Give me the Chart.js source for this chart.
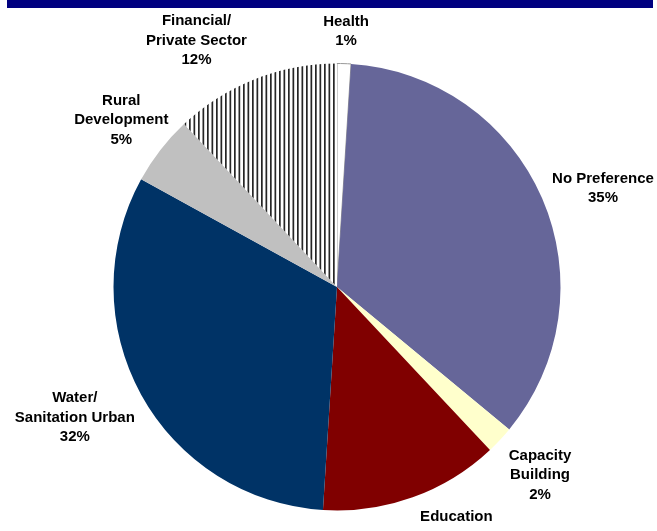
<!DOCTYPE html>
<html>
<head>
<meta charset="utf-8">
<script src="https://cdn.jsdelivr.net/npm/chart.js@4.4.1/dist/chart.umd.min.js"></script>
<style>
  html, body { margin: 0; padding: 0; background: #ffffff; }
  #wrap { position: relative; width: 657px; height: 531px; overflow: hidden; }
  #topbar { position: absolute; left: 7px; top: 0; width: 646px; height: 8px; background: #000080; }
  #c { position: absolute; left: 0; top: 0; }
</style>
</head>
<body>
<div id="wrap">
  <canvas id="c" width="657" height="531"></canvas>
  <div id="topbar"></div>
</div>
<script>
// Data (clockwise from 12 o'clock)
const categories = ["Health", "No Preference", "Capacity Building", "Education", "Water/ Sanitation Urban", "Rural Development", "Financial/ Private Sector"];
const labelLines = [["Health"], ["No Preference"], ["Capacity", "Building"], ["Education"], ["Water/", "Sanitation Urban"], ["Rural", "Development"], ["Financial/", "Private Sector"]];
const values = [1, 35, 2, 13, 32, 5, 12];
const percentLabels = ["1%", "35%", "2%", "13%", "32%", "5%", "12%"];

// Styles
const sliceColors = ["#FFFFFF", "#666699", "#FFFFCC", "#800000", "#003366", "#C0C0C0", null];
const labelNudge = [[1, -3], [5, 2], [10, 8], [28, 2], [-5, 4], [6, -6], [-36, -2]];

function stripePattern() {
  const pc = document.createElement('canvas');
  pc.width = 9; pc.height = 4;
  const p = pc.getContext('2d');
  p.fillStyle = '#ffffff';
  p.fillRect(0, 0, 9, 4);
  p.fillStyle = '#262626';
  p.fillRect(0, 0, 1.7, 4);
  p.fillRect(4.5, 0, 1.7, 4);
  return p.createPattern(pc, 'repeat');
}

const ctx = document.getElementById('c').getContext('2d');
const bg = sliceColors.map(c => c === null ? stripePattern() : c);

const labelPlugin = {
  id: 'outLabels',
  afterDatasetsDraw(chart) {
    const c = chart.ctx;
    const meta = chart.getDatasetMeta(0);
    const font = 'bold 15px "Liberation Sans", Arial, sans-serif';
    const lineH = 19.5;
    const gap = 10;
    c.save();
    c.font = font;
    c.fillStyle = '#000000';
    c.textAlign = 'center';
    c.textBaseline = 'middle';
    meta.data.forEach((arc, i) => {
      const p = arc.getProps(['x', 'y', 'startAngle', 'endAngle', 'outerRadius'], true);
      const mid = (p.startAngle + p.endAngle) / 2;
      const dx = Math.cos(mid), dy = Math.sin(mid);
      const lines = labelLines[i].concat([percentLabels[i]]);
      const w = Math.max(...lines.map(t => c.measureText(t).width));
      const h = lines.length * lineH;
      const px = p.x + (p.outerRadius + gap) * dx;
      const py = p.y + (p.outerRadius + gap) * dy;
      const cx = px + dx * w / 2 + labelNudge[i][0];
      const cy = py + dy * h / 2 + labelNudge[i][1];
      const top = cy - h / 2 + lineH / 2;
      lines.forEach((t, k) => c.fillText(t, cx, top + k * lineH));
    });
    c.restore();
  }
};

new Chart(ctx, {
  type: 'pie',
  data: {
    labels: categories,
    datasets: [{
      data: values,
      backgroundColor: bg,
      borderColor: ["#999999", "#666699", "#FFFFCC", "#800000", "#003366", "#C0C0C0", "#ffffff"],
      borderWidth: [1, 0, 0, 0, 0, 0, 0],
      hoverOffset: 0
    }]
  },
  options: {
    responsive: false,
    animation: false,
    events: [],
    layout: { padding: { left: 113, right: 96, top: 63, bottom: 20 } },
    plugins: {
      legend: { display: false },
      tooltip: { enabled: false },
      title: { display: false }
    }
  },
  plugins: [labelPlugin]
});
</script>
</body>
</html>
